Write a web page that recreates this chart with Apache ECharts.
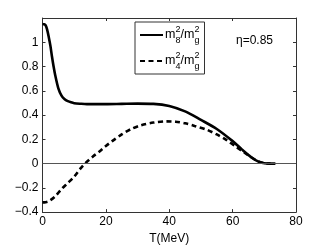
<!DOCTYPE html>
<html><head><meta charset="utf-8">
<script src="https://cdn.jsdelivr.net/npm/echarts@6/dist/echarts.min.js"></script>
<style>html,body{margin:0;padding:0;background:#fff}#c{width:327px;height:250px}</style>
</head><body><div id="c"></div>
<script>
const tSolid = [0, 0.5, 1, 1.5, 2, 2.5, 3, 3.5, 4, 5, 6, 7, 8, 9, 10, 12, 14, 16, 20, 25, 30, 35, 40, 45, 50, 55, 60, 63, 66, 68, 70, 72, 73.5];
const m8 = [1.15, 1.148, 1.14, 1.10, 1.04, 0.97, 0.88, 0.80, 0.73, 0.62, 0.56, 0.53, 0.515, 0.505, 0.498, 0.493, 0.49, 0.49, 0.49, 0.492, 0.494, 0.492, 0.475, 0.43, 0.36, 0.285, 0.185, 0.115, 0.05, 0.018, 0.003, 0, 0];
const tDash = [0, 1, 2, 4, 6, 8, 10, 12, 13.4, 16, 18, 20, 22, 25, 28, 31, 35, 39, 42, 45, 48, 52, 55, 58, 61, 64, 66, 68, 70, 72];
const m4 = [-0.32, -0.318, -0.31, -0.27, -0.21, -0.16, -0.108, -0.04, 0, 0.06, 0.10, 0.145, 0.185, 0.24, 0.285, 0.315, 0.338, 0.348, 0.345, 0.332, 0.31, 0.277, 0.24, 0.195, 0.14, 0.085, 0.05, 0.018, 0.003, 0];
const xTicks = [0, 20, 40, 60, 80];
const yTicks = [-0.4, -0.2, 0, 0.2, 0.4, 0.6, 0.8, 1, 1.2];
const names = ['m8', 'm4'];
const etaText = 'η=0.85';
const xTitle = 'T(MeV)';

const font = 'Liberation Sans, Arial, sans-serif';
const chart = echarts.init(document.getElementById('c'), null, {renderer: 'canvas'});
const pair = (xs, ys) => xs.map((x, i) => [x, ys[i]]);
const fmtY = v => {
  if (Math.abs(v - 1.2) < 1e-9) return '';
  const r = Math.round(v * 10) / 10;
  return (r < 0 ? '\u2212' : '') + String(Math.abs(r));
};
const axisCommon = {
  type: 'value',
  axisLine: {show: true, onZero: false, lineStyle: {color: '#333', width: 1}},
  axisTick: {show: true, inside: true, length: 3, lineStyle: {color: '#333'}},
  splitLine: {show: false}
};
const rich = {
  b: {fontFamily: font, fontSize: 12.5, color: '#000', lineHeight: 20, verticalAlign: 'middle'},
  sup: {fontFamily: font, fontSize: 9, color: '#000', lineHeight: 20, verticalAlign: 'top', width: 0.1},
  sub: {fontFamily: font, fontSize: 9, color: '#000', lineHeight: 20, verticalAlign: 'bottom'}
};
chart.setOption({
  animation: false,
  backgroundColor: '#fff',
  color: ['#000', '#000'],
  grid: {left: 42.5, right: 31, top: 18, bottom: 33.3},
  xAxis: [
    Object.assign({}, axisCommon, {min: 0, max: 80, interval: 20, position: 'bottom',
      axisLabel: {fontFamily: font, fontSize: 12, color: '#000', margin: 4},
      name: xTitle, nameLocation: 'middle', nameGap: 17,
      nameTextStyle: {fontFamily: font, fontSize: 12, color: '#000'}}),
    Object.assign({}, axisCommon, {min: 0, max: 80, interval: 20, position: 'top', axisLabel: {show: false}})
  ],
  yAxis: [
    Object.assign({}, axisCommon, {min: -0.4, max: 1.2, interval: 0.2, position: 'left',
      axisLabel: {fontFamily: font, fontSize: 12, color: '#000', margin: 4, formatter: fmtY}}),
    Object.assign({}, axisCommon, {min: -0.4, max: 1.2, interval: 0.2, position: 'right', axisLabel: {show: false}})
  ],
  legend: {
    left: 135, top: 22, orient: 'vertical',
    borderColor: '#333', borderWidth: 1,
    padding: [3, 5, 3, 4],
    itemWidth: 23, itemHeight: 10, itemGap: 6,
    itemStyle: {opacity: 0},
    data: names,
    formatter: n => n === 'm8' ? '{b|m}{sup|2}{sub|8}{b|/m}{sup|2}{sub|g}' : '{b|m}{sup|2}{sub|4}{b|/m}{sup|2}{sub|g}',
    textStyle: {rich: rich, padding: [0, 0, 0, -3]}
  },
  graphic: [
    {type: 'text', left: 236, top: 35, style: {text: etaText, font: '12px ' + font, fill: '#000'}}
  ],
  series: [
    {name: names[0], type: 'line', data: pair(tSolid, m8), smooth: 0.3, showSymbol: false, symbol: 'none',
      itemStyle: {color: '#000'},
      lineStyle: {color: '#000', width: 2.6},
      markLine: {silent: true, symbol: 'none', label: {show: false},
        lineStyle: {color: '#555', width: 1, type: 'solid'}, data: [{yAxis: 0}]}},
    {name: names[1], type: 'line', data: pair(tDash, m4), smooth: 0.3, showSymbol: false, symbol: 'none',
      itemStyle: {color: '#000'},
      lineStyle: {color: '#000', width: 2.6, type: [5, 3.5]}}
  ]
});
</script></body></html>
